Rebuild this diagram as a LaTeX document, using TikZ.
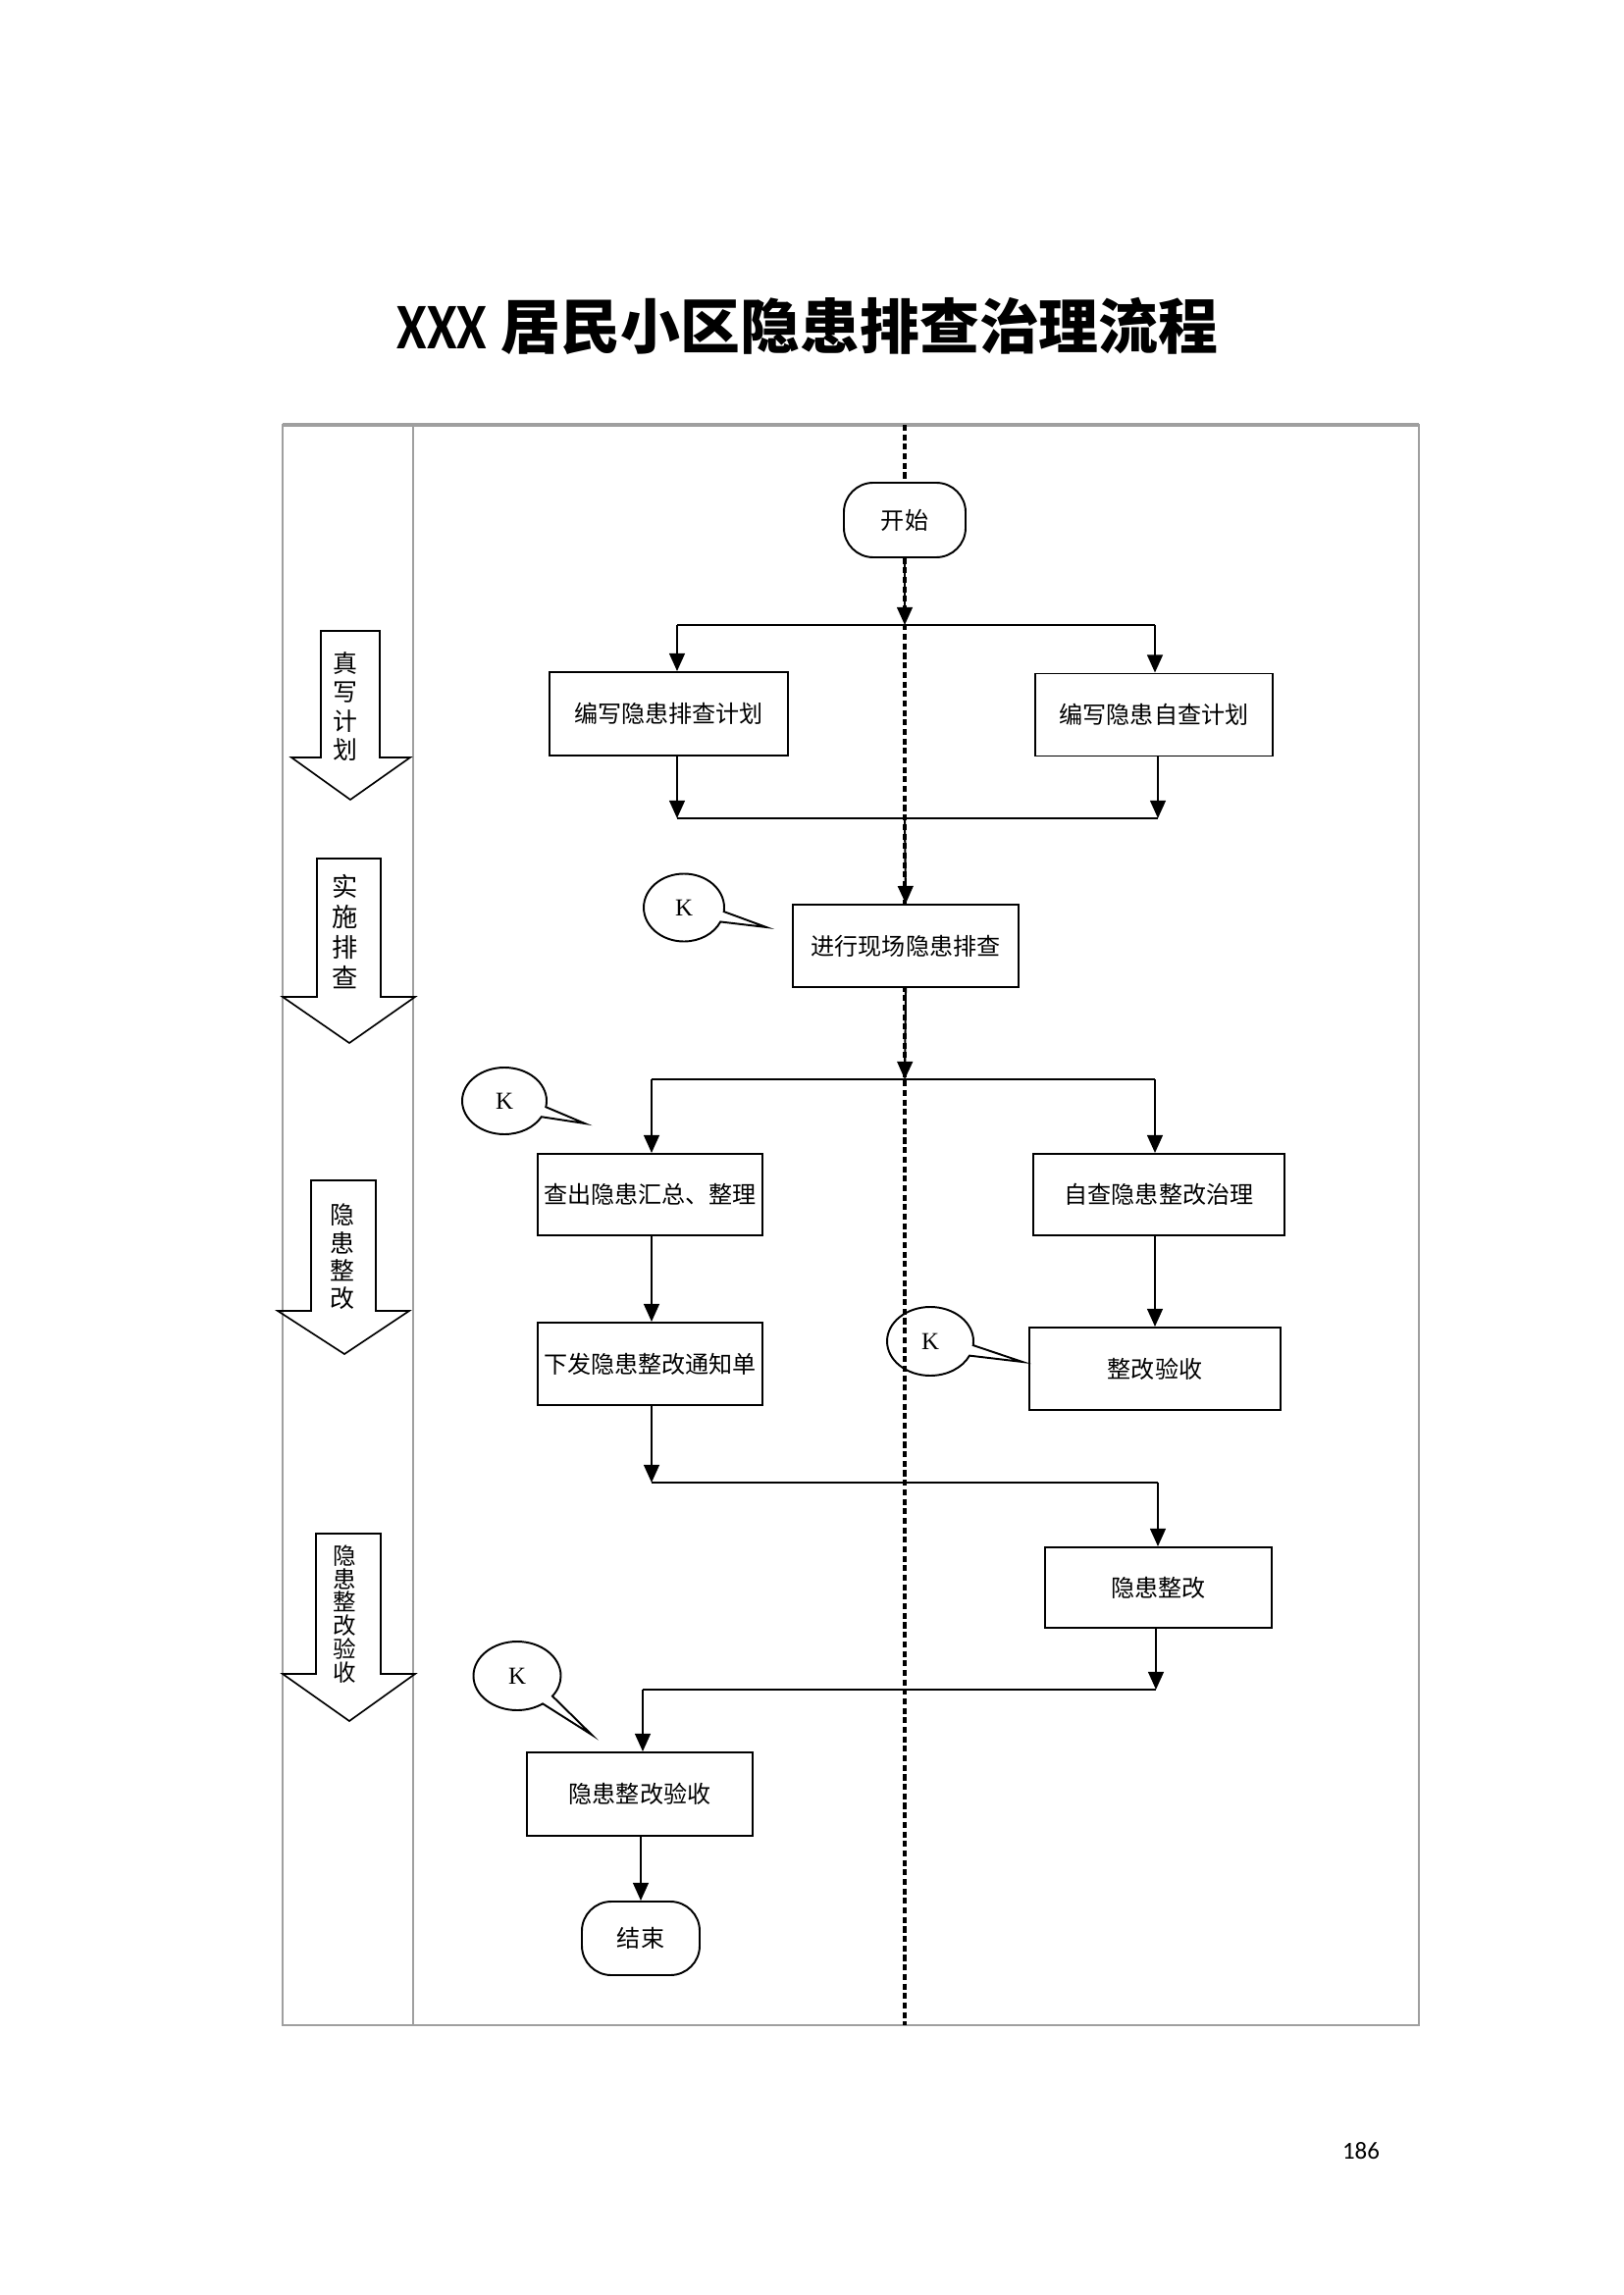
\documentclass[tikz,border=0pt]{standalone}
\usepackage{fontspec}
\usepackage{graphicx}
\setmainfont{Liberation Serif}
\newfontfamily\cjk{Noto Sans CJK SC}
\newfontfamily\latinsans{Carlito}
\usetikzlibrary{arrows.meta,shapes.callouts,calc}
\newcommand{\PX}{0.127mm}
\tikzset{
 procbox/.style={draw, line width=0.7pt, fill=white, inner sep=0pt, font=\cjk\fontsize{8.7pt}{10pt}\selectfont},
 termnode/.style={draw, line width=0.7pt, fill=white, rounded corners=3.8mm, inner sep=0pt, font=\cjk\fontsize{8.7pt}{10pt}\selectfont},
 conn/.style={line width=0.75pt},
 arr/.style={conn, -{Triangle[length=2.3mm,width=2mm]}},
 kbubble/.style={ellipse callout, draw, line width=0.7pt, inner sep=0pt, callout pointer arc=18, font=\fontsize{9pt}{10pt}\selectfont},
 frameline/.style={draw=gray!75, line width=0.5pt},
 dotline/.style={line width=1.1pt, dash pattern=on 2.2pt off 1.3pt},
 blockarrow/.style={draw, line width=0.6pt},
 lanetext/.style={align=center, inner sep=0pt}
}
\begin{document}
\begin{tikzpicture}[x=0.127mm,y=-0.127mm]
\useasboundingbox (0,0) rectangle (1654,2339);

% title
\node[anchor=west, inner sep=0pt] (title) at (404,332)
  {\bfseries\scalebox{1}[1.2]{\fontsize{20pt}{24pt}\selectfont\latinsans XXX}\hspace{1.9mm}{\fontsize{22pt}{26pt}\selectfont\cjk 居民小区隐患排查治理流程}};

% frame and lanes
\draw[frameline] (288,433) rectangle (1446,2064);
\draw[frameline, line width=1.1pt] (288,433) -- (1446,433);
\draw[frameline] (421,433) -- (421,2064);
\draw[dotline] (922,433) -- (922,2064);

% lane block arrows
\draw[blockarrow] (327,643) -- (387,643) -- (387,772) -- (418,772) -- (357,815) -- (297,772) -- (327,772) -- cycle;
\draw[blockarrow] (323,875) -- (388,875) -- (388,1016) -- (423,1016) -- (356,1063) -- (288,1016) -- (323,1016) -- cycle;
\draw[blockarrow] (317,1203) -- (383,1203) -- (383,1336) -- (417,1336) -- (351,1380) -- (283,1336) -- (317,1336) -- cycle;
\draw[blockarrow] (322,1563) -- (388,1563) -- (388,1706) -- (423,1706) -- (356,1754) -- (288,1706) -- (322,1706) -- cycle;
\node[lanetext, font=\cjk\fontsize{9pt}{10.5pt}\selectfont] (la) at (352,720) {真\\写\\计\\划};
\node[lanetext, font=\cjk\fontsize{9.5pt}{11.2pt}\selectfont] (lb) at (352,949) {实\\施\\排\\查};
\node[lanetext, font=\cjk\fontsize{9pt}{10.2pt}\selectfont] (lc) at (349,1281) {隐\\患\\整\\改};
\node[lanetext, font=\cjk\fontsize{8.5pt}{8.6pt}\selectfont] (ld) at (351,1645) {隐\\患\\整\\改\\验\\收};

% flow nodes
\node[termnode, minimum width=124*\PX, minimum height=76*\PX] (start) at (922,530) {开始};
\node[procbox, minimum width=243*\PX, minimum height=85*\PX] (b1) at (681.5,727.5) {编写隐患排查计划};
\node[procbox, minimum width=242*\PX, minimum height=84*\PX] (b2) at (1176,728.5) {编写隐患自查计划};
\node[procbox, minimum width=230*\PX, minimum height=84*\PX] (b3) at (923,964) {进行现场隐患排查};
\node[procbox, minimum width=229*\PX, minimum height=83*\PX] (b4) at (662.5,1217.5) {查出隐患汇总、整理};
\node[procbox, minimum width=256*\PX, minimum height=83*\PX] (b5) at (1181,1217.5) {自查隐患整改治理};
\node[procbox, minimum width=229*\PX, minimum height=84*\PX] (b6) at (662.5,1390) {下发隐患整改通知单};
\node[procbox, minimum width=256*\PX, minimum height=84*\PX] (b7) at (1177,1395) {整改验收};
\node[procbox, minimum width=231*\PX, minimum height=82*\PX] (b8) at (1180.5,1618) {隐患整改};
\node[procbox, minimum width=230*\PX, minimum height=85*\PX] (b9) at (652,1828.5) {隐患整改验收};
\node[termnode, minimum width=120*\PX, minimum height=75*\PX] (end) at (653,1975.5) {结束};

% callout bubbles
\node[kbubble, minimum width=82*\PX, minimum height=69*\PX, callout absolute pointer={(781,945)}] (k1) at (697,925) {K};
\node[kbubble, minimum width=86*\PX, minimum height=68*\PX, callout absolute pointer={(596,1145)}] (k2) at (514,1122) {K};
\node[kbubble, minimum width=88*\PX, minimum height=70*\PX, callout absolute pointer={(1042,1388)}] (k3) at (948,1367) {K};
\node[kbubble, minimum width=89*\PX, minimum height=70*\PX, callout absolute pointer={(603,1768)}] (k4) at (527,1708) {K};

% junction coordinates
\coordinate (j1) at (922,637);
\coordinate (j1l) at (690,637);
\coordinate (j1r) at (1177,637);
\coordinate (j2) at (922,834);
\coordinate (j2l) at (690,834);
\coordinate (j2r) at (1180,834);
\coordinate (j3) at (922,1100);
\coordinate (j3l) at (664,1100);
\coordinate (j3r) at (1177,1100);
\coordinate (j4l) at (664,1511);
\coordinate (j4r) at (1180,1511);
\coordinate (j5l) at (655,1722);
\coordinate (j5r) at (1178,1722);

% connectors
\draw[arr] (start.south) -- (j1);
\draw[conn] (j1l) -- (j1r);
\draw[arr] (j1l) -- (j1l |- b1.north);
\draw[arr] (j1r) -- (j1r |- b2.north);

\draw[arr] (j2l |- b1.south) -- (j2l);
\draw[arr] (j2r |- b2.south) -- (j2r);
\draw[conn] (j2l) -- (j2r);
\draw[arr] (j2) -- (b3.north);

\draw[arr] (b3.south) -- (j3);
\draw[conn] (j3l) -- (j3r);
\draw[arr] (j3l) -- (j3l |- b4.north);
\draw[arr] (j3r) -- (j3r |- b5.north);

\draw[arr] (j3l |- b4.south) -- (j3l |- b6.north);
\draw[arr] (b7.north |- b5.south) -- (b7.north);

\draw[arr] (j4l |- b6.south) -- (j4l);
\draw[conn] (j4l) -- (j4r);
\draw[arr] (j4r) -- (j4r |- b8.north);

\draw[arr] (j5r |- b8.south) -- (j5r);
\draw[conn] (j5l) -- (j5r);
\draw[arr] (j5l) -- (j5l |- b9.north);
\draw[arr] (end.north |- b9.south) -- (end.north);

% page number
\node[inner sep=0pt, font=\latinsans\fontsize{9pt}{10pt}\selectfont] (pg) at (1387,2192) {186};
\end{tikzpicture}
\end{document}
